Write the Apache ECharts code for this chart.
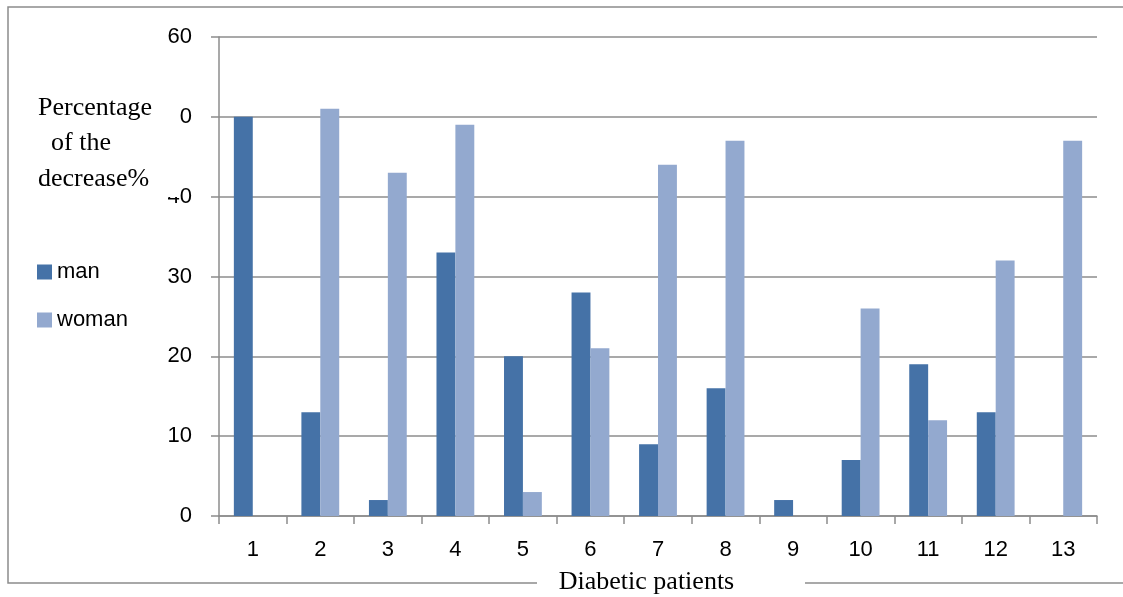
<!DOCTYPE html>
<html>
<head>
<meta charset="utf-8">
<script src="https://cdn.jsdelivr.net/npm/echarts@6/dist/echarts.min.js"></script>
<style>
  html, body { margin: 0; padding: 0; background: #fff; }
  #chart { width: 1123px; height: 597px; }
</style>
</head>
<body>
<div id="chart"></div>
<script>
// Diabetic patients: percentage of the decrease, by sex
const patients = ['1', '2', '3', '4', '5', '6', '7', '8', '9', '10', '11', '12', '13'];
const man   = [50, 13, 2, 33, 20, 28, 9, 16, 2, 7, 19, 13, 0];
const woman = [0, 51, 43, 49, 3, 21, 44, 47, 0, 26, 12, 32, 47];
const yTicks = { min: 0, max: 60, interval: 10 };

const SANS = '"Liberation Sans", "Open Sans", sans-serif';
const SERIF = '"Liberation Serif", "DejaVu Serif", serif';
const FRAME = '#8c8c8c';

const chart = echarts.init(document.getElementById('chart'), null, { renderer: 'canvas' });

chart.setOption({
  backgroundColor: '#ffffff',
  animation: false,
  grid: { left: 219, right: 26, top: 37, bottom: 81, containLabel: false, outerBoundsMode: 'none' },
  legend: {
    orient: 'vertical',
    left: 37,
    top: 258,
    padding: 0,
    itemWidth: 15,
    itemHeight: 15,
    itemGap: 20,
    icon: 'rect',
    textStyle: { fontFamily: SANS, fontSize: 22, color: '#000', lineHeight: 28 },
    data: ['man', 'woman']
  },
  xAxis: {
    type: 'category',
    data: patients,
    name: 'Diabetic patients',
    nameLocation: 'middle',
    nameGap: 53,
    nameTextStyle: {
      fontFamily: SERIF, fontSize: 26, color: '#000',
      padding: [0, 23, 0, 0]
    },
    axisLine: { lineStyle: { color: FRAME, width: 1.5 } },
    axisTick: { show: true, alignWithLabel: false, length: 8, lineStyle: { color: FRAME, width: 1.5 } },
    axisLabel: { fontFamily: SANS, fontSize: 22, color: '#000', margin: 23 },
    splitLine: { show: false }
  },
  yAxis: {
    type: 'value',
    min: yTicks.min,
    max: yTicks.max,
    interval: yTicks.interval,
    axisLine: { show: true, lineStyle: { color: FRAME, width: 1.5 } },
    axisTick: { show: true, length: 8, lineStyle: { color: FRAME, width: 1.5 } },
    axisLabel: { fontFamily: SANS, fontSize: 22, color: '#000', margin: 27 },
    splitLine: { show: true, lineStyle: { color: FRAME, width: 1.5 } }
  },
  series: [
    {
      name: 'man', type: 'bar', data: man,
      itemStyle: { color: '#4572A7' },
      barGap: '0%', barCategoryGap: '44%'
    },
    {
      name: 'woman', type: 'bar', data: woman,
      itemStyle: { color: '#93A9CF' },
      barGap: '0%', barCategoryGap: '44%'
    }
  ],
  graphic: [
    {
      // outer chart frame, open at the bottom where the axis name sits
      type: 'polyline', z: -10, silent: true,
      shape: { points: [[537, 583], [8, 583], [8, 7], [1130, 7]] },
      style: { fill: null, stroke: FRAME, lineWidth: 1.5 }
    },
    {
      type: 'line', z: -10, silent: true,
      shape: { x1: 805, y1: 583, x2: 1130, y2: 583 },
      style: { stroke: FRAME, lineWidth: 1.5 }
    },
    {
      // y-axis title box, sits over part of the tick labels
      type: 'rect', z: 100, silent: true,
      shape: { x: 35, y: 90, width: 145, height: 107 },
      style: { fill: '#ffffff' }
    },
    {
      type: 'text', z: 101, silent: true,
      left: 38, top: 90,
      style: {
        text: 'Percentage\n  of the\ndecrease%',
        fontFamily: SERIF, fontSize: 26, lineHeight: 35.5,
        fill: '#000', align: 'left'
      }
    }
  ]
});
</script>
</body>
</html>
